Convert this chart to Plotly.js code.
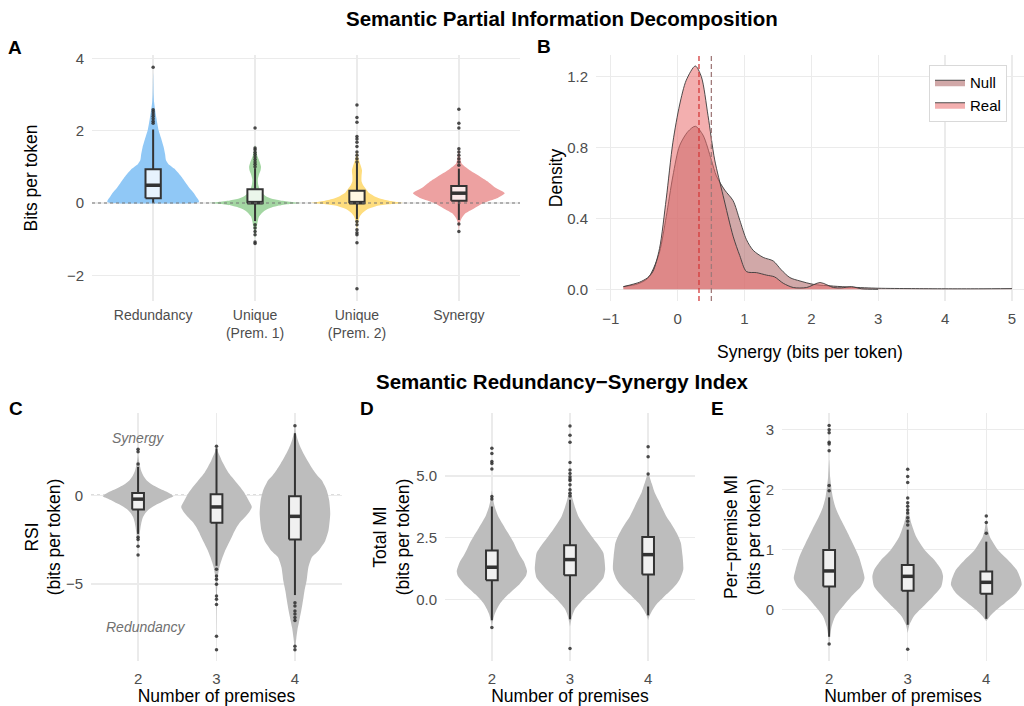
<!DOCTYPE html>
<html><head><meta charset="utf-8">
<script src="https://cdn.plot.ly/plotly-3.0.1.min.js"></script>
<style>html,body{margin:0;padding:0;background:#fff}#chart{width:1024px;height:706px}</style>
</head><body><div id="chart"></div>
<script>
// ---------------- Panel A: Semantic PID ----------------
const aCats = ["Redundancy", "Unique<br>(Prem. 1)", "Unique<br>(Prem. 2)", "Synergy"];
const aColors = ["#90c8f6", "#a3d6a2", "#fedd7e", "#eda1a1"];
// violin profiles (value, relative width)
const redY = [3.6, 3.3, 3.0, 2.8, 2.6, 2.36, 2.2, 2.0, 1.8, 1.54, 1.35, 1.18, 1.08, 0.95, 0.75, 0.54, 0.4, 0.27, 0.15, 0.08, 0.03, 0.0];
const redW = [0, 0.005, 0.01, 0.02, 0.04, 0.07, 0.09, 0.12, 0.17, 0.23, 0.26, 0.28, 0.33, 0.46, 0.6, 0.72, 0.8, 0.89, 0.95, 0.99, 1.0, 0.92];
const un1Y = [1.6, 1.45, 1.3, 1.2, 1.1, 1.0, 0.9, 0.8, 0.65, 0.5, 0.38, 0.28, 0.2, 0.12, 0.07, 0.03, 0.0, -0.03, -0.08, -0.14, -0.22, -0.37, -0.5, -0.64, -0.8, -1.0];
const un1W = [0, 0.02, 0.05, 0.08, 0.11, 0.13, 0.12, 0.09, 0.06, 0.07, 0.1, 0.15, 0.22, 0.35, 0.55, 0.8, 1.0, 0.75, 0.5, 0.33, 0.2, 0.09, 0.06, 0.04, 0.015, 0];
const un2Y = [1.45, 1.3, 1.15, 1.0, 0.9, 0.75, 0.6, 0.5, 0.38, 0.28, 0.2, 0.12, 0.06, 0.02, 0.0, -0.03, -0.08, -0.18, -0.28, -0.38, -0.5, -0.65, -0.8];
const un2W = [0, 0.02, 0.05, 0.09, 0.11, 0.1, 0.1, 0.13, 0.2, 0.26, 0.36, 0.5, 0.7, 0.9, 1.0, 0.75, 0.45, 0.22, 0.12, 0.06, 0.03, 0.01, 0];
const synY = [1.55, 1.4, 1.25, 1.09, 0.96, 0.87, 0.78, 0.6, 0.42, 0.27, 0.13, 0.0, -0.15, -0.28, -0.42, -0.55, -0.7, -0.85];
const synW = [0, 0.01, 0.03, 0.06, 0.18, 0.28, 0.4, 0.62, 0.8, 1.0, 0.83, 0.54, 0.33, 0.15, 0.06, 0.02, 0.005, 0];
const aQ1 = [0.13, -0.01, -0.01, 0.06];
const aMed = [0.49, 0.01, 0.01, 0.27];
const aQ3 = [0.93, 0.38, 0.34, 0.47];
const aLo = [0.0, -0.5, -0.45, -0.47];
const aHi = [2.03, 0.96, 1.1, 0.95];
const redOut = [3.75, 2.58, 2.52, 2.46, 2.40, 2.33, 2.26, 2.2];
const un1Out = [2.07, 1.52, 1.47, 1.40, 1.34, 1.27, 1.20, 1.13, 1.07, 1.0, -0.6, -0.69, -0.79, -0.88, -1.08, -1.12];
const un2Out = [2.71, 2.36, 2.23, 1.84, 1.77, 1.68, 1.56, 1.41, 1.32, 1.22, 1.13, -0.51, -0.6, -0.74, -0.82, -0.88, -1.1, -2.37];
const synOut = [2.59, 2.2, 2.07, 1.50, 1.41, 1.32, 1.22, 1.13, 1.04, -0.58, -0.79];

// ---------------- Panel B: synergy densities ----------------
const nullX = [-0.81, -0.6, -0.45, -0.37, -0.27, -0.17, -0.07, 0.03, 0.155, 0.265, 0.38, 0.505, 0.58, 0.705, 0.83, 0.93, 1.03, 1.13, 1.28, 1.43, 1.55, 1.68, 1.83, 2.03, 2.33, 2.6, 3.0, 3.5, 4.0, 4.5, 5.0];
const nullD = [0.015, 0.03, 0.06, 0.11, 0.21, 0.41, 0.64, 0.81, 0.89, 0.92, 0.87, 0.73, 0.64, 0.56, 0.50, 0.39, 0.28, 0.22, 0.18, 0.16, 0.11, 0.066, 0.047, 0.028, 0.018, 0.012, 0.006, 0.004, 0.003, 0.003, 0.004];
const realX = [-0.81, -0.57, -0.45, -0.37, -0.27, -0.17, -0.07, 0.03, 0.13, 0.265, 0.355, 0.455, 0.555, 0.68, 0.83, 0.93, 1.03, 1.18, 1.33, 1.45, 1.58, 1.73, 1.93, 2.13, 2.33, 2.45, 2.6, 2.75, 3.0];
const realD = [0.015, 0.04, 0.065, 0.10, 0.23, 0.51, 0.83, 1.04, 1.18, 1.26, 1.20, 0.98, 0.73, 0.53, 0.30, 0.19, 0.10, 0.094, 0.08, 0.07, 0.034, 0.01, 0.01, 0.038, 0.01, 0.008, 0.015, 0.003, 0.0];
const realMean = 0.32;
const nullMean = 0.505;

// ---------------- Panels C-E: by number of premises ----------------
const premCats = ["2", "3", "4"];
// C: RSI
const c2Y = [2.6, 2.2, 1.8, 1.42, 1.1, 0.85, 0.65, 0.47, 0.28, 0.1, -0.06, -0.2, -0.38, -0.55, -0.76, -1.0, -1.23, -1.5, -1.8, -2.1, -2.4, -2.8, -3.2];
const c2W = [0, 0.01, 0.04, 0.08, 0.15, 0.24, 0.36, 0.52, 0.72, 0.9, 1.0, 0.85, 0.67, 0.5, 0.33, 0.21, 0.14, 0.1, 0.07, 0.05, 0.03, 0.01, 0];
const c3Y = [2.75, 2.45, 2.18, 1.9, 1.61, 1.3, 1.04, 0.75, 0.47, 0.2, -0.1, -0.4, -0.66, -0.95, -1.23, -1.5, -1.8, -2.1, -2.37, -2.65, -2.94, -3.2, -3.5, -3.8, -4.07, -4.4, -4.8, -5.5, -6.3, -7.5, -8.7];
const c3W = [0, 0.04, 0.1, 0.16, 0.24, 0.33, 0.43, 0.55, 0.67, 0.77, 0.86, 0.94, 1.0, 0.93, 0.81, 0.68, 0.57, 0.49, 0.43, 0.36, 0.29, 0.23, 0.17, 0.12, 0.08, 0.05, 0.03, 0.015, 0.008, 0.003, 0];
const c4Y = [3.92, 3.5, 3.12, 2.65, 2.18, 1.8, 1.42, 1.1, 0.85, 0.55, 0.28, -0.28, -1.04, -1.99, -2.56, -2.85, -3.13, -3.5, -4.07, -4.5, -4.83, -5.4, -5.8, -6.16, -6.5, -6.9, -7.2, -7.48, -8.05, -8.4, -8.75];
const c4W = [0, 0.03, 0.08, 0.17, 0.29, 0.4, 0.52, 0.64, 0.76, 0.84, 0.9, 0.97, 1.0, 0.95, 0.86, 0.77, 0.67, 0.48, 0.38, 0.35, 0.33, 0.27, 0.24, 0.21, 0.18, 0.14, 0.11, 0.08, 0.04, 0.02, 0];
const cQ1 = [-0.81, -1.55, -2.5];
const cMed = [-0.22, -0.66, -1.19];
const cQ3 = [0.13, 0.06, -0.06];
const cLo = [-2.18, -3.98, -5.63];
const cHi = [1.6, 2.65, 3.5];
const c2Out = [2.6, 2.46, 1.76, -2.37, -2.5, -2.88, -3.37];
const c3Out = [2.76, -4.17, -4.55, -4.74, -5.02, -5.68, -5.87, -6.16, -7.95, -8.71];
const c4Out = [3.92, -6.06, -6.25, -6.53, -6.7, -6.9, -7.06, -8.52, -8.71];
// D: Total MI
const d2Y = [4.4, 4.1, 3.76, 3.4, 3.09, 2.8, 2.55, 2.3, 2.02, 1.78, 1.55, 1.3, 1.14, 0.95, 0.81, 0.6, 0.4, 0.2, 0.0, -0.2, -0.4, -0.6, -0.81, -1.1];
const d2W = [0, 0.03, 0.08, 0.17, 0.29, 0.41, 0.52, 0.62, 0.71, 0.8, 0.9, 0.97, 1.0, 0.97, 0.9, 0.78, 0.62, 0.47, 0.33, 0.22, 0.14, 0.08, 0.04, 0];
const d3Y = [4.8, 4.4, 4.03, 3.7, 3.36, 3.1, 2.82, 2.55, 2.29, 2.05, 1.88, 1.61, 1.21, 0.87, 0.6, 0.4, 0.2, 0.0, -0.2, -0.4, -0.6, -0.81, -1.1];
const d3W = [0, 0.03, 0.08, 0.15, 0.24, 0.35, 0.48, 0.62, 0.76, 0.88, 0.95, 0.98, 1.0, 0.95, 0.8, 0.67, 0.52, 0.38, 0.25, 0.14, 0.08, 0.04, 0];
const d4Y = [5.1, 4.7, 4.35, 4.03, 3.7, 3.36, 3.1, 2.82, 2.55, 2.29, 1.75, 1.21, 0.81, 0.6, 0.4, 0.2, 0.0, -0.2, -0.4, -0.55, -0.7, -0.85];
const d4W = [0, 0.1, 0.18, 0.29, 0.4, 0.52, 0.64, 0.76, 0.86, 0.93, 0.98, 1.0, 0.9, 0.8, 0.67, 0.52, 0.38, 0.24, 0.14, 0.08, 0.03, 0];
const dQ1 = [0.77, 0.97, 1.01];
const dMed = [1.30, 1.61, 1.81];
const dQ3 = [1.98, 2.19, 2.53];
const dLo = [-0.85, -0.81, -0.65];
const dHi = [3.76, 4.03, 4.57];
const d2Out = [6.12, 5.91, 5.58, 5.5, 5.28, 4.17, 4.06, -1.14];
const d3Out = [7.02, 6.65, 6.36, 5.54, 5.24, 5.1, 4.97, 4.88, 4.81, 4.64, 4.44, 4.3, 4.19, -1.99];
const d4Out = [6.18, 5.78, 5.08];
// E: Per-premise MI
const e2Y = [2.5, 2.2, 1.88, 1.7, 1.55, 1.33, 1.1, 0.88, 0.66, 0.52, 0.38, 0.21, 0.04, -0.12, -0.29, -0.46, -0.6];
const e2W = [0, 0.03, 0.1, 0.18, 0.29, 0.48, 0.67, 0.84, 0.95, 1.0, 0.9, 0.62, 0.38, 0.17, 0.07, 0.02, 0];
const e3Y = [1.8, 1.6, 1.44, 1.21, 0.99, 0.82, 0.66, 0.55, 0.38, 0.21, 0.04, -0.12, -0.26, -0.4];
const e3W = [0, 0.04, 0.1, 0.24, 0.48, 0.76, 0.95, 1.0, 0.95, 0.71, 0.43, 0.17, 0.05, 0];
const e4Y = [1.5, 1.35, 1.21, 0.99, 0.82, 0.66, 0.49, 0.41, 0.27, 0.1, -0.01, -0.12, -0.2];
const e4W = [0, 0.04, 0.1, 0.33, 0.62, 0.86, 0.98, 1.0, 0.86, 0.52, 0.29, 0.1, 0];
const eQ1 = [0.38, 0.31, 0.26];
const eMed = [0.64, 0.55, 0.45];
const eQ3 = [0.99, 0.74, 0.63];
const eLo = [-0.46, -0.26, -0.16];
const eHi = [1.87, 1.33, 1.13];
const e2Out = [3.07, 3.0, 2.95, 2.79, 2.76, 2.65, 2.07, 1.98, -0.58];
const e3Out = [2.34, 2.22, 2.12, 1.86, 1.78, 1.72, 1.66, 1.61, 1.53, 1.47, 1.41, -0.67];
const e4Out = [1.56, 1.45, 1.27];

// ---------------- builders ----------------
const HALF = 0.45, BOXW = 0.15;
const GRAY = "#bdbdbd", DARK = "#333333";
const traces = [];
function violin(ax, ay, pos, ys, ws, color) {
  const xs = ws.map(w => pos + HALF * w).concat(ws.slice().reverse().map(w => pos - HALF * w));
  const yy = ys.concat(ys.slice().reverse());
  traces.push({type: "scatter", mode: "lines", x: xs, y: yy, xaxis: ax, yaxis: ay,
    fill: "toself", fillcolor: color, line: {width: 0, color: color, shape: "spline", smoothing: 0.6},
    hoverinfo: "skip", showlegend: false});
}
// box-and-whisker drawn with scatter so it sits above the violins
function boxes(ax, ay, q1, med, q3, lo, hi, fill) {
  const h = BOXW / 2;
  const wx = [], wy = [];
  q1.forEach((_, i) => {
    const p = i + 1;
    wx.push(p, p, null, p, p, null);
    wy.push(lo[i], q1[i], null, q3[i], hi[i], null);
  });
  traces.push({type: "scatter", mode: "lines", x: wx, y: wy, xaxis: ax, yaxis: ay,
    line: {color: DARK, width: 2}, showlegend: false, hoverinfo: "skip"});
  q1.forEach((_, i) => {
    const p = i + 1;
    traces.push({type: "scatter", mode: "lines", x: [p - h, p + h, p + h, p - h, p - h], y: [q1[i], q1[i], q3[i], q3[i], q1[i]],
      xaxis: ax, yaxis: ay, fill: "toself", fillcolor: fill, line: {color: DARK, width: 2},
      showlegend: false, hoverinfo: "skip"});
  });
  const mx = [], my = [];
  med.forEach((m, i) => { mx.push(i + 1 - h, i + 1 + h, null); my.push(m, m, null); });
  traces.push({type: "scatter", mode: "lines", x: mx, y: my, xaxis: ax, yaxis: ay,
    line: {color: DARK, width: 3.5}, showlegend: false, hoverinfo: "skip"});
}
function outliers(ax, ay, lists) {
  const ox = [], oy = [];
  lists.forEach((l, i) => l.forEach(v => { ox.push(i + 1); oy.push(v); }));
  traces.push({type: "scatter", mode: "markers", x: ox, y: oy, xaxis: ax, yaxis: ay,
    marker: {size: 3.5, color: "rgba(45,45,45,0.85)"}, showlegend: false, hoverinfo: "skip"});
}

// A
[[redY, redW], [un1Y, un1W], [un2Y, un2W], [synY, synW]].forEach((p, i) => violin("x", "y", i + 1, p[0], p[1], aColors[i]));
boxes("x", "y", aQ1, aMed, aQ3, aLo, aHi, "rgba(255,255,255,0.78)");
outliers("x", "y", [redOut, un1Out, un2Out, synOut]);
// B
traces.push({type: "scatter", mode: "lines", name: "Null", x: nullX, y: nullD, xaxis: "x2", yaxis: "y2",
  fill: "tozeroy", fillcolor: "rgba(175,105,105,0.58)", line: {color: "#3a3a3a", width: 0.9, shape: "spline", smoothing: 0.8}});
traces.push({type: "scatter", mode: "lines", name: "Real", x: realX, y: realD, xaxis: "x2", yaxis: "y2",
  fill: "tozeroy", fillcolor: "rgba(234,110,110,0.55)", line: {color: "#3a3a3a", width: 0.9, shape: "spline", smoothing: 0.8}});
// C
[[c2Y, c2W], [c3Y, c3W], [c4Y, c4W]].forEach((p, i) => violin("x3", "y3", i + 1, p[0], p[1], GRAY));
boxes("x3", "y3", cQ1, cMed, cQ3, cLo, cHi, "#f0f0f0");
outliers("x3", "y3", [c2Out, c3Out, c4Out]);
// D
[[d2Y, d2W], [d3Y, d3W], [d4Y, d4W]].forEach((p, i) => violin("x4", "y4", i + 1, p[0], p[1], GRAY));
boxes("x4", "y4", dQ1, dMed, dQ3, dLo, dHi, "#f0f0f0");
outliers("x4", "y4", [d2Out, d3Out, d4Out]);
// E
[[e2Y, e2W], [e3Y, e3W], [e4Y, e4W]].forEach((p, i) => violin("x5", "y5", i + 1, p[0], p[1], GRAY));
boxes("x5", "y5", eQ1, eMed, eQ3, eLo, eHi, "#f0f0f0");
outliers("x5", "y5", [e2Out, e3Out, e4Out]);

// ---------------- layout ----------------
const W = 1024, H = 706;
const fx = p => p / W, fy = p => 1 - p / H;
const FONT = "Liberation Sans, Arial, sans-serif";
const tickFont = {family: FONT, size: 15, color: "#4d4d4d"};
const titleFont = {family: FONT, size: 17.5, color: "#000"};
function ax(o) {
  return Object.assign({showgrid: true, gridcolor: "#ebebeb", gridwidth: 1.4, zeroline: false, showline: false,
    ticks: "outside", ticklen: 4, tickcolor: "rgba(0,0,0,0)", tickfont: tickFont, fixedrange: true}, o);
}
const yTop = [fy(301), fy(55)], yBot = [fy(661), fy(413)];
function label(t, x, y, size, extra) {
  return Object.assign({text: t, xref: "paper", yref: "paper", x: fx(x), y: fy(y), xanchor: "center", yanchor: "middle",
    showarrow: false, font: {family: FONT, size: size, color: "#000"}}, extra || {});
}
const layout = {
  width: W, height: H, margin: {l: 0, r: 0, t: 0, b: 0},
  paper_bgcolor: "#fff", plot_bgcolor: "#fff", font: {family: FONT},
  xaxis: ax({domain: [fx(92), fx(520)], anchor: "y", range: [0.4, 4.6], tickvals: [1, 2, 3, 4], ticktext: aCats, ticklen: 1, tickfont: {family: FONT, size: 14, color: "#4d4d4d"}}),
  yaxis: ax({domain: yTop, anchor: "x", range: [-2.71, 4.09], tickvals: [-2, 0, 2, 4], title: {text: "Bits per token", font: titleFont, standoff: 24}}),
  xaxis2: ax({domain: [fx(596), 1], anchor: "y2", range: [-1.22, 5.18], tickvals: [-1, 0, 1, 2, 3, 4, 5], title: {text: "Synergy (bits per token)", font: titleFont, standoff: 19}}),
  yaxis2: ax({domain: yTop, anchor: "x2", range: [-0.066, 1.322], tickvals: [0, 0.4, 0.8, 1.2], tickformat: ".1f", title: {text: "Density", font: titleFont, standoff: 0}}),
  xaxis3: ax({domain: [fx(91), fx(342)], anchor: "y3", range: [0.4, 3.6], tickvals: [1, 2, 3], ticktext: premCats, title: {text: "Number of premises", font: titleFont, standoff: 3}}),
  yaxis3: ax({domain: yBot, anchor: "x3", range: [-9.35, 4.64], tickvals: [-5, 0], title: {text: "RSI<br>(bits per token)", font: titleFont, standoff: 0}}),
  xaxis4: ax({domain: [fx(445), fx(695)], anchor: "y4", range: [0.4, 3.6], tickvals: [1, 2, 3], ticktext: premCats, title: {text: "Number of premises", font: titleFont, standoff: 3}}),
  yaxis4: ax({domain: yBot, anchor: "x4", range: [-2.5, 7.55], tickvals: [0, 2.5, 5], tickformat: ".1f", title: {text: "Total MI<br>(bits per token)", font: titleFont, standoff: 2}}),
  xaxis5: ax({domain: [fx(782), 1], anchor: "y5", range: [0.4, 3.48], tickvals: [1, 2, 3], ticktext: premCats, title: {text: "Number of premises", font: titleFont, standoff: 3}}),
  yaxis5: ax({domain: yBot, anchor: "x5", range: [-0.865, 3.28], tickvals: [0, 1, 2, 3], title: {text: "Per\u2212premise MI<br>(bits per token)", font: titleFont, standoff: 0}}),
  showlegend: true,
  legend: {x: fx(929), y: fy(65), xanchor: "left", yanchor: "top", bgcolor: "#fff", bordercolor: "#d9d9d9", borderwidth: 1,
    font: {family: FONT, size: 15, color: "#000"}, tracegroupgap: 0, itemwidth: 30},
  shapes: [
    {type: "line", xref: "x domain", yref: "y", x0: 0, x1: 1, y0: 0, y1: 0, line: {color: "#777", width: 1.1, dash: "3px,3px"}, layer: "above"},
    {type: "line", xref: "x3 domain", yref: "y3", x0: 0, x1: 1, y0: 0, y1: 0, line: {color: "#777", width: 1.1, dash: "3px,3px"}, layer: "below"},
    {type: "line", xref: "x2", yref: "y2 domain", x0: realMean, x1: realMean, y0: 0, y1: 1, line: {color: "#d33a3a", width: 1.3, dash: "5px,3px"}},
    {type: "line", xref: "x2", yref: "y2 domain", x0: nullMean, x1: nullMean, y0: 0, y1: 1, line: {color: "#a07a7a", width: 1.3, dash: "5px,3px"}}
  ],
  annotations: [
    label("<b>Semantic Partial Information Decomposition</b>", 562, 18, 20.5),
    label("<b>Semantic Redundancy\u2212Synergy Index</b>", 562, 381, 20.5),
    label("<b>A</b>", 15, 47, 19),
    label("<b>B</b>", 544, 46, 19),
    label("<b>C</b>", 16, 408, 19),
    label("<b>D</b>", 367, 408, 19),
    label("<b>E</b>", 717, 408, 19),
    {text: "<i>Synergy</i>", xref: "x3", yref: "y3", x: 1, y: 3.25, xanchor: "center", yanchor: "middle", showarrow: false, font: {family: FONT, size: 14, color: "#707070"}},
    {text: "<i>Redundancy</i>", xref: "x3", yref: "y3", x: 1.1, y: -7.45, xanchor: "center", yanchor: "middle", showarrow: false, font: {family: FONT, size: 14, color: "#707070"}}
  ]
};
Plotly.newPlot("chart", traces, layout, {staticPlot: true, displayModeBar: false});
</script></body></html>
